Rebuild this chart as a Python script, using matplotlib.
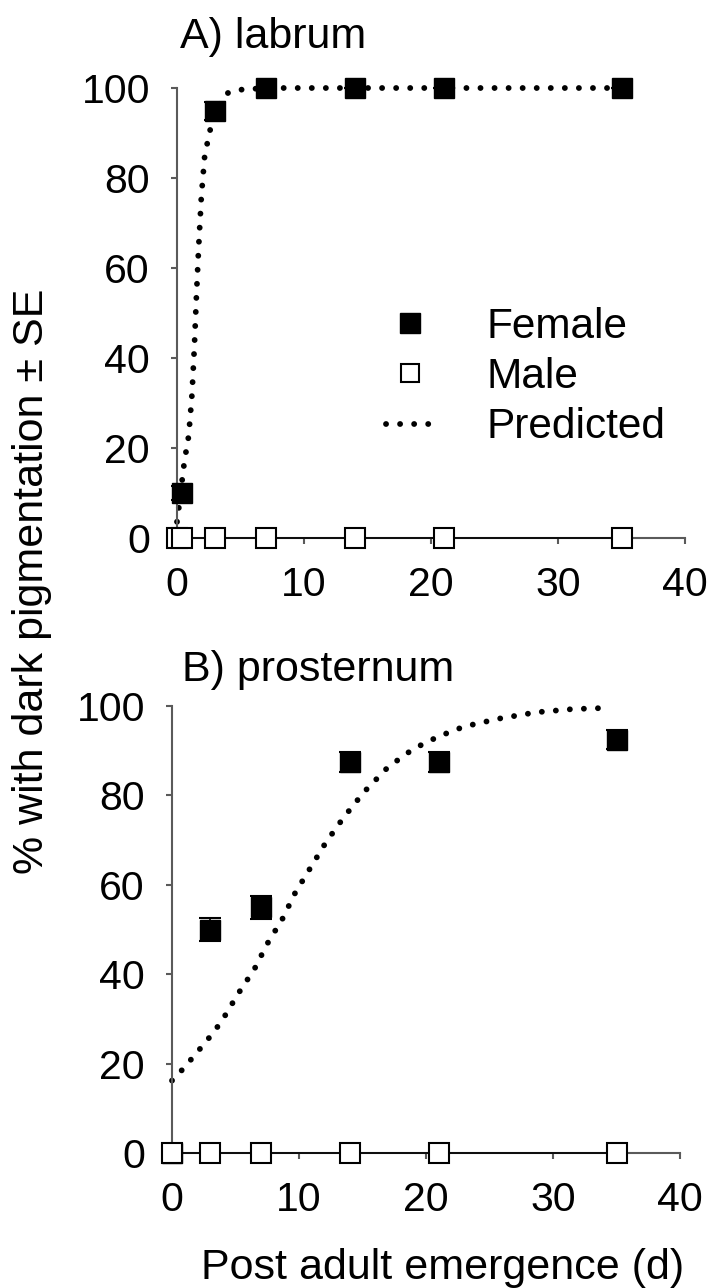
import matplotlib
matplotlib.use('Agg')
import matplotlib.pyplot as plt
from matplotlib.lines import Line2D

plt.rcParams['font.family'] = ['Liberation Sans', 'DejaVu Sans']

# days after emergence
days_a = [0.4, 3, 7, 14, 21, 35]
days_b = [0, 3, 7, 14, 21, 35]
male_days_a = [0, 0.4, 3, 7, 14, 21, 35]
male_days_b = [0, 3, 7, 14, 21, 35]

# % with dark pigmentation
female_a = [10, 95, 100, 100, 100, 100]
female_a_se = [1.5, 2, 0, 0, 0, 0]
male_a = [0, 0, 0, 0, 0, 0, 0]

female_b = [0, 50, 55, 87.5, 87.5, 92.5]
female_b_se = [0, 2.6, 2.6, 2.2, 2.2, 2.2]
male_b = [0, 0, 0, 0, 0, 0]

# predicted curves
pred_a_x = [0, 0.13, 0.58, 0.92, 1.18, 1.37, 1.53, 1.71, 1.92, 2.18, 2.55, 3.0, 3.9, 4.9, 7, 14, 21, 35]
pred_a_y = [3.6, 6.4, 17, 22.7, 31.9, 42.6, 53.8, 64.9, 76, 84.9, 90, 95, 98.8, 99.6, 100, 100, 100, 100]
pred_b_x = [0, 0.9, 1.7, 2.5, 3.3, 4.0, 5.2, 6.5, 7.5, 8.7, 9.7, 10.9, 12.1, 13.5, 15.1, 17.0,
            19.0, 21.0, 23.0, 25.8, 28.7, 31.5, 34.5]
pred_b_y = [16.2, 18.9, 21.6, 24.3, 27.1, 29.9, 35.6, 41.2, 46.8, 52.4, 58.2, 63.8, 69.4, 75.0,
            80.7, 86.3, 90.4, 93.2, 95.4, 97.2, 98.6, 99.3, 99.6]

xticks = [0, 10, 20, 30, 40]
yticks = [0, 20, 40, 60, 80, 100]

W, H = 710, 1288
fig = plt.figure(figsize=(W / 100, H / 100), dpi=100)
axA = fig.add_axes([177 / W, 1 - 538 / H, 508 / W, 450 / H])
axB = fig.add_axes([172 / W, 1 - 1153 / H, 508 / W, 447 / H])

dot = dict(color='black', lw=4.2, linestyle=(0, (0.01, 2.4)), dash_capstyle='round')
spine_col = '#5a5a5a'


def draw(ax, fx, fy, fse, mx, my, px, py):
    ax.plot(px, py, zorder=2, clip_on=False, **dot)
    ax.plot(mx, my, color='black', lw=1.2, zorder=3, clip_on=False)
    ax.errorbar(fx, fy, yerr=fse, fmt='s', ms=15, mfc='black', mec='black',
                ecolor='black', elinewidth=1.2, capsize=8, capthick=1.5,
                zorder=4, clip_on=False)
    ax.plot(mx, my, 's', ms=15, mfc='white', mec='black', mew=1.5, zorder=5, clip_on=False)
    ax.set_xlim(0, 40)
    ax.set_ylim(0, 100)
    ax.set_xticks(xticks)
    ax.set_yticks(yticks)
    for s in ['top', 'right']:
        ax.spines[s].set_visible(False)
    for s in ['left', 'bottom']:
        ax.spines[s].set_color(spine_col)
        ax.spines[s].set_linewidth(1.5)
    ax.tick_params(axis='x', direction='out', length=4, width=1.5, color=spine_col,
                   labelsize=29.5, pad=16)
    ax.tick_params(axis='y', direction='out', length=4, width=1.5, color=spine_col,
                   labelsize=29.5, pad=15.5)


draw(axA, days_a, female_a, female_a_se, male_days_a, male_a, pred_a_x, pred_a_y)
draw(axB, days_b, female_b, female_b_se, male_days_b, male_b, pred_b_x, pred_b_y)

handles = [
    Line2D([], [], linestyle='none', marker='s', ms=14.5, mfc='black', mec='black'),
    Line2D([], [], linestyle='none', marker='s', ms=13.5, mfc='white', mec='black', mew=1.5),
    Line2D([], [], **dot),
]
axA.legend(handles, ['Female', 'Male', 'Predicted'], frameon=False, fontsize=30.5,
           loc='upper left', bbox_to_anchor=((386 - 177) / 508, (538 - 307) / 450),
           borderaxespad=0, borderpad=0, handlelength=1.12, handletextpad=1.25,
           labelspacing=0.24)

fig.text(180 / W, 1 - 37 / H, 'A) labrum', fontsize=31, ha='left', va='center')
fig.text(182 / W, 1 - 670 / H, 'B) prosternum', fontsize=31, ha='left', va='center')
fig.text(32 / W, 1 - 581 / H, '% with dark pigmentation ± SE', fontsize=31,
         rotation=90, ha='center', va='center')
fig.text(443 / W, 9 / H, 'Post adult emergence (d)', fontsize=31, ha='center', va='baseline')

fig.savefig('out.png', dpi=100)
